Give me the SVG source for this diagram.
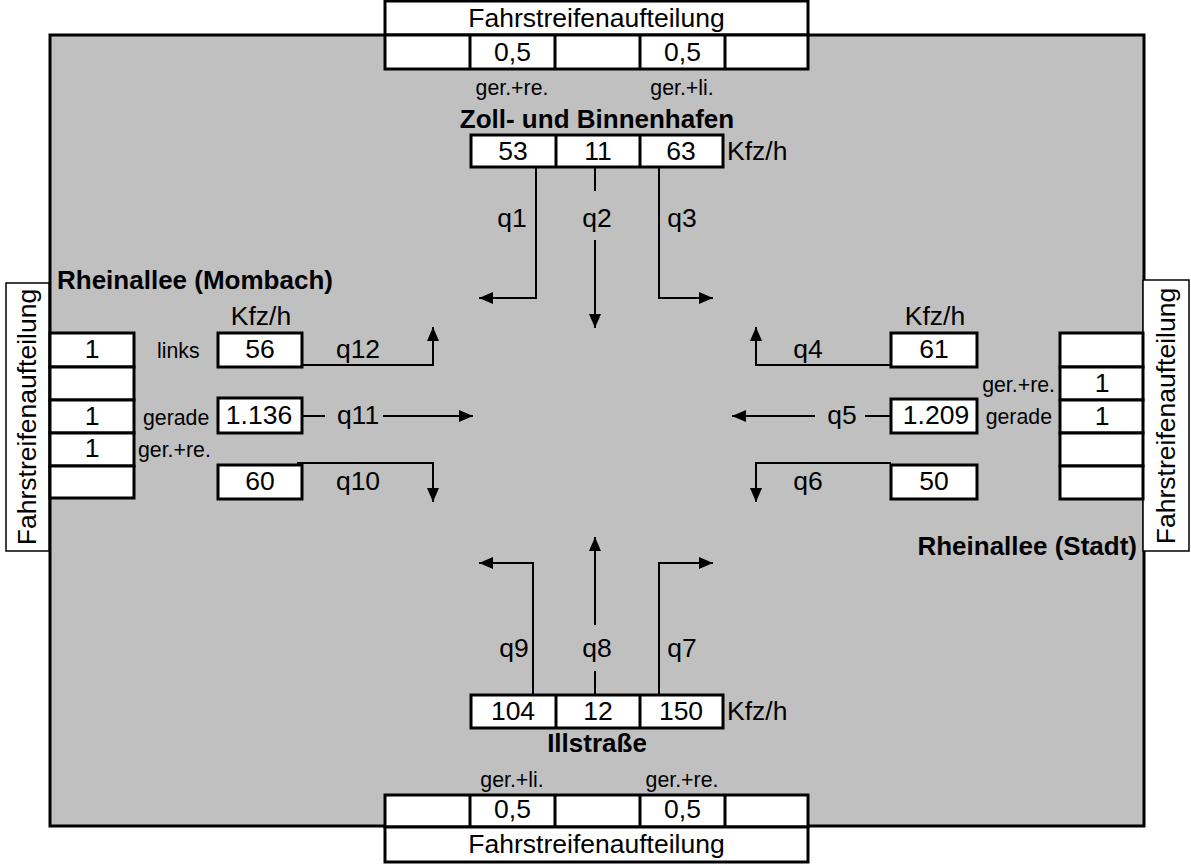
<svg xmlns="http://www.w3.org/2000/svg" width="1191" height="866" viewBox="0 0 1191 866">
<style>
text{font-family:"Liberation Sans",Arial,sans-serif;fill:#000}
.m{font-size:26.5px}
.s{font-size:21.3px}
.b{font-size:26px;font-weight:bold}
.c{text-anchor:middle}
.e{text-anchor:end}
.box{fill:#fff;stroke:#000;stroke-width:3}
.thin{fill:#fff;stroke:#000;stroke-width:1.5}
.ln{fill:none;stroke:#000;stroke-width:2}
.ar{fill:none;stroke:#000;stroke-width:2;marker-end:url(#ah)}
</style>
<defs>
<marker id="ah" viewBox="0 0 14 12" refX="14" refY="6" markerWidth="14" markerHeight="12" markerUnits="userSpaceOnUse" orient="auto">
<path d="M0,0 L14,6 L0,12 z" fill="#000"/>
</marker>
</defs>
<rect x="50" y="35" width="1094" height="791" fill="#c0c0c0" stroke="#000" stroke-width="3"/>

<g id="top-lanes">
<rect class="box" x="385" y="1" width="423" height="34"/>
<rect class="box" x="385" y="35" width="423" height="34"/>
<path class="ln" style="stroke-width:3" d="M470,35V69M555,35V69M640,35V69M725,35V69"/>
<text class="m c" x="596.5" y="27">Fahrstreifenaufteilung</text>
<text class="m c" x="512.5" y="61">0,5</text>
<text class="m c" x="682.5" y="61">0,5</text>
<text class="s c" x="512" y="95">ger.+re.</text>
<text class="s c" x="682" y="95">ger.+li.</text>
</g>
<g id="top-name"><text class="b c" x="597" y="128">Zoll- und Binnenhafen</text></g>
<g id="top-flows">
<rect class="box" x="471" y="135" width="252" height="32"/>
<path class="ln" style="stroke-width:3" d="M556,135V167M640,135V167"/>
<text class="m c" x="513" y="160">53</text>
<text class="m c" x="598" y="160">11</text>
<text class="m c" x="681" y="160">63</text>
<text class="m" x="727" y="160">Kfz/h</text>
</g>

<g id="bottom-flows">
<rect class="box" x="471" y="695" width="252" height="33"/>
<path class="ln" style="stroke-width:3" d="M556,695V728M640,695V728"/>
<text class="m c" x="513" y="720">104</text>
<text class="m c" x="598" y="720">12</text>
<text class="m c" x="681" y="720">150</text>
<text class="m" x="727" y="720">Kfz/h</text>
</g>
<g id="bottom-name"><text class="b c" x="597" y="752">Illstraße</text></g>
<g id="bottom-lanes">
<text class="s c" x="512" y="787">ger.+li.</text>
<text class="s c" x="682" y="787">ger.+re.</text>
<rect class="box" x="385" y="795" width="423" height="32"/>
<rect class="box" x="385" y="827" width="423" height="35"/>
<path class="ln" style="stroke-width:3" d="M470,795V827M555,795V827M640,795V827M725,795V827"/>
<text class="m c" x="512.5" y="818">0,5</text>
<text class="m c" x="682.5" y="818">0,5</text>
<text class="m c" x="596.5" y="853">Fahrstreifenaufteilung</text>
</g>

<g id="left-lanes">
<rect class="thin" x="6" y="283" width="43" height="268"/>
<text class="m c" transform="translate(36,417) rotate(-90)" x="0" y="0">Fahrstreifenaufteilung</text>
<rect class="box" x="50" y="333" width="84" height="34"/>
<rect class="box" x="50" y="367" width="84" height="33"/>
<rect class="box" x="50" y="400" width="84" height="33"/>
<rect class="box" x="50" y="433" width="84" height="33"/>
<rect class="box" x="50" y="466" width="84" height="32"/>
<text class="m c" x="92" y="358">1</text>
<text class="m c" x="92" y="425">1</text>
<text class="m c" x="92" y="457">1</text>
<text class="s" x="157" y="358">links</text>
<text class="s" x="143" y="425">gerade</text>
<text class="s" x="138" y="457">ger.+re.</text>
</g>
<g id="left-name"><text class="b" x="57" y="289">Rheinallee (Mombach)</text></g>
<g id="left-flows">
<text class="m c" x="261" y="325">Kfz/h</text>
<rect class="box" x="218" y="333" width="84" height="34"/>
<rect class="box" x="218" y="398" width="84" height="35"/>
<rect class="box" x="218" y="465" width="84" height="34"/>
<text class="m c" x="260" y="358">56</text>
<text class="m c" x="259" y="424">1.136</text>
<text class="m c" x="260" y="490">60</text>
</g>

<g id="right-lanes">
<rect class="thin" x="1143" y="280" width="46" height="271"/>
<text class="m c" transform="translate(1175,416) rotate(-90)" x="0" y="0">Fahrstreifenaufteilung</text>
<rect class="box" x="1060" y="333" width="83" height="34"/>
<rect class="box" x="1060" y="367" width="83" height="33"/>
<rect class="box" x="1060" y="400" width="83" height="33"/>
<rect class="box" x="1060" y="433" width="83" height="33"/>
<rect class="box" x="1060" y="466" width="83" height="33"/>
<text class="m c" x="1102" y="392">1</text>
<text class="m c" x="1102" y="425">1</text>
<text class="s e" x="1055" y="392">ger.+re.</text>
<text class="s e" x="1052" y="424">gerade</text>
</g>
<g id="right-name"><text class="b e" x="1137" y="555">Rheinallee (Stadt)</text></g>
<g id="right-flows">
<text class="m c" x="935" y="325">Kfz/h</text>
<rect class="box" x="891" y="333" width="86" height="34"/>
<rect class="box" x="891" y="399" width="86" height="34"/>
<rect class="box" x="891" y="465" width="86" height="34"/>
<text class="m c" x="934" y="358">61</text>
<text class="m c" x="936" y="424">1.209</text>
<text class="m c" x="934" y="490">50</text>
</g>

<g id="connectors">
<path class="ar" d="M536,167V298H479"/>
<path class="ln" d="M595,167V191"/>
<path class="ar" d="M595,240V328"/>
<path class="ar" d="M659,167V298H713"/>
<path class="ar" d="M533,695V563H479"/>
<path class="ln" d="M595,695V671"/>
<path class="ar" d="M595,625V537"/>
<path class="ar" d="M659,695V563H713"/>
<path class="ar" d="M302,365H433V327"/>
<path class="ln" d="M302,416H325"/>
<path class="ar" d="M383,416H473"/>
<path class="ar" d="M297,463H433V502"/>
<path class="ar" d="M891,365H756V327"/>
<path class="ln" d="M891,416H865"/>
<path class="ar" d="M815,416H732"/>
<path class="ar" d="M891,463H756V502"/>
</g>
<g id="flow-labels">
<text class="m c" x="512" y="227">q1</text>
<text class="m c" x="597" y="227">q2</text>
<text class="m c" x="682" y="227">q3</text>
<text class="m c" x="808" y="358">q4</text>
<text class="m c" x="842" y="424">q5</text>
<text class="m c" x="808" y="490">q6</text>
<text class="m c" x="682" y="657">q7</text>
<text class="m c" x="597" y="657">q8</text>
<text class="m c" x="514" y="657">q9</text>
<text class="m c" x="358" y="490">q10</text>
<text class="m c" x="358" y="424">q11</text>
<text class="m c" x="358" y="358">q12</text>
</g>
</svg>
